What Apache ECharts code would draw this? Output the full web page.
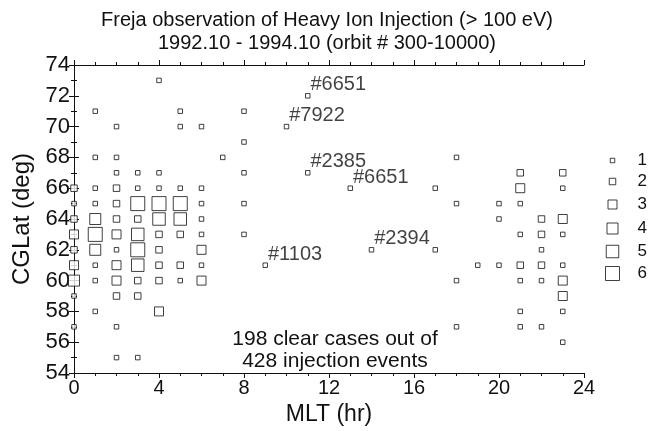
<!DOCTYPE html>
<html>
<head>
<meta charset="utf-8">
<script src="https://cdn.jsdelivr.net/npm/echarts@6/dist/echarts.min.js"></script>
<style>
  html, body { margin: 0; padding: 0; background: #fff; }
  #chart { width: 654px; height: 431px; }
</style>
</head>
<body>
<div id="chart"></div>
<script>
// [MLT (hr), CGLat (deg)] for every size class (1 = fewest events)
var size1 = [
  [0,65],[0,59],[0,57],
  [1,71],[1,68],[1,66],[1,65],[1,61],[1,60],[1,58],
  [2,70],[2,68],[2,67],[2,62],[2,57],[2,55],
  [3,67],[3,66],[3,55],
  [4,73],[4,67],[4,66],
  [5,71],[5,70],[5,66],[5,60],
  [6,70],[6,66],[6,65],[6,64],[6,63],[6,61],
  [7,68],
  [8,71],[8,69],[8,67],[8,65],[8,63],
  [17,66],[17,62],
  [18,68],[18,65],[18,60],[18,57],
  [19,61],
  [20,65],[20,64],[20,61],
  [21,65],[21,63],[21,60],[21,58],[21,57],
  [22,62],[22,60],[22,57],
  [23,66],[23,63],[23,61],[23,58],[23,56]
];
var size2 = [
  [0,66],[0,64],[0,62],
  [2,66],[2,65],[2,64],[2,59],
  [3,64],[3,60],[3,59],
  [4,63],[4,62],[4,61],[4,60],
  [5,63],[5,61],
  [21,67],[21,61],
  [22,64],[22,63],[22,61],
  [23,67]
];
var size3 = [
  [0,63],[0,61],
  [2,63],[2,61],[2,60],
  [4,58],
  [6,62],[6,60],
  [21,66],
  [23,64],[23,60],[23,59]
];
var size4 = [
  [0,60],
  [1,64],[1,62]
];
var size5 = [
  [3,63],[3,61],
  [4,64],[5,64]
];
var size6 = [
  [1,63],
  [3,65],[3,62],
  [4,65],[5,65]
];
// single events marked with their orbit number
var labeledCases = [
  [11,72,'#6651'],[10,70,'#7922'],[11,67,'#2385'],
  [13,66,'#6651'],[14,62,'#2394'],[9,61,'#1103']
];

var sizeNames = ['1','2','3','4','5','6'];
var sizeData = [size1, size2, size3, size4, size5, size6];
var symbolPx = [4.5, 6.5, 9, 11, 12.5, 14];
var legendY = [157, 178, 201, 225, 248, 270];

var FONT = 'Liberation Sans';
var boxStyle = { color: '#fff', borderColor: '#111', borderWidth: 1 };

var chart = echarts.init(document.getElementById('chart'), null, { renderer: 'canvas' });

var series = sizeData.map(function (d, i) {
  return {
    name: sizeNames[i],
    type: 'scatter',
    data: d,
    symbol: 'rect',
    symbolSize: symbolPx[i],
    clip: false,
    itemStyle: boxStyle,
    emphasis: { disabled: true },
    z: 10 - i
  };
});
series.push({
  name: 'cases',
  type: 'scatter',
  data: labeledCases,
  symbol: 'rect',
  symbolSize: symbolPx[0],
  itemStyle: boxStyle,
  label: {
    show: true,
    position: 'right',
    distance: 0,
    offset: [0, -11],
    formatter: function (p) { return p.value[2]; },
    color: '#111',
    fontFamily: FONT,
    fontSize: 20
  }
});

// one small legend per size so each key box can have its own size
var legends = sizeNames.map(function (n, i) {
  var s = symbolPx[i];
  return {
    data: [n],
    left: 607 - s / 2,
    top: legendY[i] - 10,
    icon: 'rect',
    itemWidth: s,
    itemHeight: s,
    selectedMode: false,
    itemStyle: boxStyle,
    textStyle: {
      fontFamily: FONT,
      fontSize: 17,
      color: '#111',
      padding: [0, 0, 0, 632 - (607 + s / 2 + 5)]
    }
  };
});

var plainAxis = {
  axisLine: { lineStyle: { color: '#111', width: 1 } },
  splitLine: { show: false }
};

var option = {
  animation: false,
  backgroundColor: '#fff',
  title: [
    {
      text: 'Freja observation of Heavy Ion Injection (> 100 eV)\n1992.10 - 1994.10 (orbit # 300-10000)',
      left: 'center',
      top: 4,
      textStyle: { fontFamily: FONT, fontWeight: 'normal', fontSize: 20, color: '#111', lineHeight: 23 }
    },
    {
      text: '198 clear cases out of\n428 injection events',
      left: 330,
      top: 323,
      textAlign: 'center',
      textStyle: { fontFamily: FONT, fontWeight: 'normal', fontSize: 21, color: '#111', lineHeight: 22 }
    }
  ],
  legend: legends,
  grid: { left: 74, right: 70, top: 65, bottom: 58 },
  xAxis: [
    Object.assign({
      type: 'value', min: 0, max: 24, interval: 4, position: 'bottom',
      name: 'MLT (hr)', nameLocation: 'middle', nameGap: 25,
      nameTextStyle: { fontFamily: FONT, fontSize: 23, color: '#111' },
      axisTick: { show: true, length: 5, lineStyle: { color: '#111' } },
      minorTick: { show: true, splitNumber: 4, length: 3, lineStyle: { color: '#111' } },
      axisLabel: { fontFamily: FONT, fontSize: 20, color: '#111', margin: 5 }
    }, plainAxis),
    Object.assign({
      type: 'value', min: 0, max: 24, interval: 4, position: 'top',
      axisTick: { show: true, length: 5, lineStyle: { color: '#111' } },
      minorTick: { show: true, splitNumber: 4, length: 3, lineStyle: { color: '#111' } },
      axisLabel: { show: false }
    }, plainAxis)
  ],
  yAxis: [
    Object.assign({
      type: 'value', min: 54, max: 74, interval: 2, position: 'left',
      name: 'CGLat (deg)', nameLocation: 'middle', nameGap: 29, nameRotate: 90,
      nameTextStyle: { fontFamily: FONT, fontSize: 24, color: '#111' },
      axisTick: { show: true, length: 5, lineStyle: { color: '#111' } },
      minorTick: { show: true, splitNumber: 2, length: 3, lineStyle: { color: '#111' } },
      axisLabel: { fontFamily: FONT, fontSize: 22, color: '#111', margin: 4 }
    }, plainAxis),
    Object.assign({
      type: 'value', min: 54, max: 74, interval: 2, position: 'right',
      axisTick: { show: true, length: 5, lineStyle: { color: '#111' } },
      minorTick: { show: true, splitNumber: 2, length: 3, lineStyle: { color: '#111' } },
      axisLabel: { show: false }
    }, plainAxis)
  ],
  series: series
};

chart.setOption(option);
</script>
</body>
</html>
